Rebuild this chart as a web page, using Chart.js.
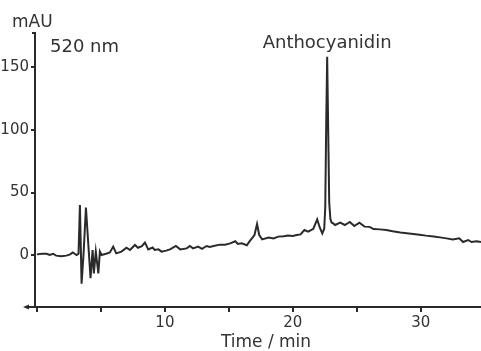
<!DOCTYPE html>
<html>
<head>
<meta charset="utf-8">
<script src="https://cdn.jsdelivr.net/npm/chart.js@4.4.0/dist/chart.umd.min.js"></script>
<style>
  html, body { margin: 0; padding: 0; background: #fff; }
  #wrap { width: 481px; height: 351px; }
</style>
</head>
<body>
<div id="wrap"><canvas id="myChart" width="481" height="351"></canvas></div>
<script>
// chromatogram trace (time in min, absorbance in mAU)
const timeMin = [0, 0.4, 0.76, 1.0, 1.27, 1.5, 1.9, 2.3, 2.6, 2.8, 3.1, 3.25, 3.36, 3.49, 3.65, 3.83, 4.0, 4.19, 4.35, 4.45, 4.6, 4.8, 4.92, 5.05, 5.4, 5.7, 5.96, 6.2, 6.6, 7.0, 7.27, 7.66, 7.9, 8.2, 8.44, 8.7, 9.04, 9.2, 9.5, 9.74, 10.1, 10.4, 10.86, 11.2, 11.7, 11.95, 12.2, 12.6, 12.9, 13.26, 13.5, 13.8, 14.3, 14.7, 15.1, 15.5, 15.7, 16.0, 16.4, 16.6, 17.0, 17.2, 17.37, 17.6, 18.1, 18.5, 18.85, 19.3, 19.6, 20.0, 20.3, 20.6, 20.9, 21.2, 21.6, 21.9, 22.1, 22.3, 22.45, 22.53, 22.6, 22.68, 22.76, 22.84, 22.93, 23.02, 23.15, 23.3, 23.7, 24.06, 24.45, 24.8, 25.2, 25.6, 26.0, 26.3, 26.8, 27.3, 27.8, 28.4, 28.9, 29.4, 29.9, 30.4, 31.0, 31.5, 32.0, 32.5, 33.0, 33.3, 33.7, 33.96, 34.35, 34.7];
const absorbance = [0.5, 1, 1, 0, 1, -0.5, -1, -0.5, 0.5, 2, 0, 1, 40, -23, 2, 38, 11, -18.6, 4, -14.7, 2.7, -14.7, 2.7, 0, 1, 2, 6.7, 1.3, 2.7, 5.8, 4, 8, 5.8, 7, 10, 4.5, 6, 4, 4.5, 2.7, 3.5, 4.5, 7.2, 4.5, 5.3, 7.2, 5.3, 6.7, 5, 7.2, 6.5, 7.2, 8.3, 8.3, 9.3, 11, 8.8, 9.3, 7.8, 10.7, 16, 24.8, 16, 12.5, 14, 13.3, 14.7, 15, 15.5, 15.2, 16, 16.5, 20, 18.7, 21, 28.5, 22, 17.3, 21, 38, 100, 158.6, 100, 42, 29, 26, 25.3, 24, 26, 24, 26.4, 23.2, 25.9, 22.7, 22.5, 20.8, 20.5, 20, 19, 18, 17.4, 16.8, 16.2, 15.5, 14.8, 14.1, 13.3, 12.5, 13.3, 10.4, 12, 10.4, 11, 10.4];

const xTicks = [0, 5, 10, 15, 20, 25, 30];
const xLabelled = [10, 20, 30];
const yTicks = [0, 50, 100, 150];
const peakName = 'Anthocyanidin';
const peakTime = 22.68;

const ink = '#2a2a2a';
const textInk = '#333';
const font = "'DejaVu Sans', sans-serif";

// text labels + the little arrow on the left end of the time axis
const extras = {
    id: 'extras',
    afterDraw(chart) {
        const c = chart.ctx;
        const area = chart.chartArea;
        const xs = chart.scales.x;
        c.save();
        c.fillStyle = textInk;
        c.textBaseline = 'alphabetic';
        c.font = '17px ' + font;
        c.textAlign = 'left';
        c.fillText('mAU', 12, 27);
        c.font = '18px ' + font;
        c.fillText('520 nm', 50, 52);
        c.textAlign = 'center';
        c.fillText(peakName, xs.getPixelForValue(peakTime), 48);
        c.font = '17px ' + font;
        c.fillText('Time / min', 266, 347);
        // arrow
        c.strokeStyle = ink;
        c.fillStyle = ink;
        c.lineWidth = 2;
        c.beginPath();
        c.moveTo(area.left, area.bottom);
        c.lineTo(area.left - 8, area.bottom);
        c.stroke();
        c.beginPath();
        c.moveTo(area.left - 12, area.bottom);
        c.lineTo(area.left - 6, area.bottom - 2.5);
        c.lineTo(area.left - 6, area.bottom + 2.5);
        c.closePath();
        c.fill();
        // small hook at top of the y axis
        c.beginPath();
        c.moveTo(area.left - 3, area.top);
        c.lineTo(area.left, area.top);
        c.stroke();
        c.restore();
    }
};

const ctx = document.getElementById('myChart').getContext('2d');
const myChart = new Chart(ctx, {
    type: 'line',
    data: {
        datasets: [{
            label: '520 nm',
            data: timeMin.map((t, i) => ({ x: t, y: absorbance[i] })),
            borderColor: ink,
            borderWidth: 2,
            pointRadius: 0,
            tension: 0,
            fill: false
        }]
    },
    options: {
        responsive: false,
        animation: false,
        layout: { padding: { top: 33, right: 0, bottom: 0, left: 0 } },
        plugins: { legend: { display: false }, tooltip: { enabled: false } },
        scales: {
            x: {
                type: 'linear',
                min: -0.15,
                max: 34.7,
                afterBuildTicks: function(scale) {
                    scale.ticks = xTicks.map(v => ({ value: v }));
                },
                afterFit: function(scale) { scale.height = 44; },
                border: { display: true, color: ink, width: 2 },
                grid: { drawOnChartArea: false, drawTicks: true, tickLength: 5, color: ink, lineWidth: 2 },
                ticks: {
                    color: textInk,
                    font: { family: font, size: 15 },
                    padding: 2,
                    maxRotation: 0,
                    autoSkip: false,
                    callback: function(value) {
                        return xLabelled.includes(value) ? String(value) : '';
                    }
                }
            },
            y: {
                min: -41.6,
                max: 177.6,
                afterBuildTicks: function(scale) {
                    scale.ticks = yTicks.map(v => ({ value: v }));
                },
                afterFit: function(scale) { scale.width = 35; },
                border: { display: true, color: ink, width: 2 },
                grid: { drawOnChartArea: false, drawTicks: true, tickLength: 4, color: ink, lineWidth: 2 },
                ticks: {
                    color: textInk,
                    font: { family: font, size: 15 },
                    padding: 2
                }
            }
        }
    },
    plugins: [extras]
});
</script>
</body>
</html>
